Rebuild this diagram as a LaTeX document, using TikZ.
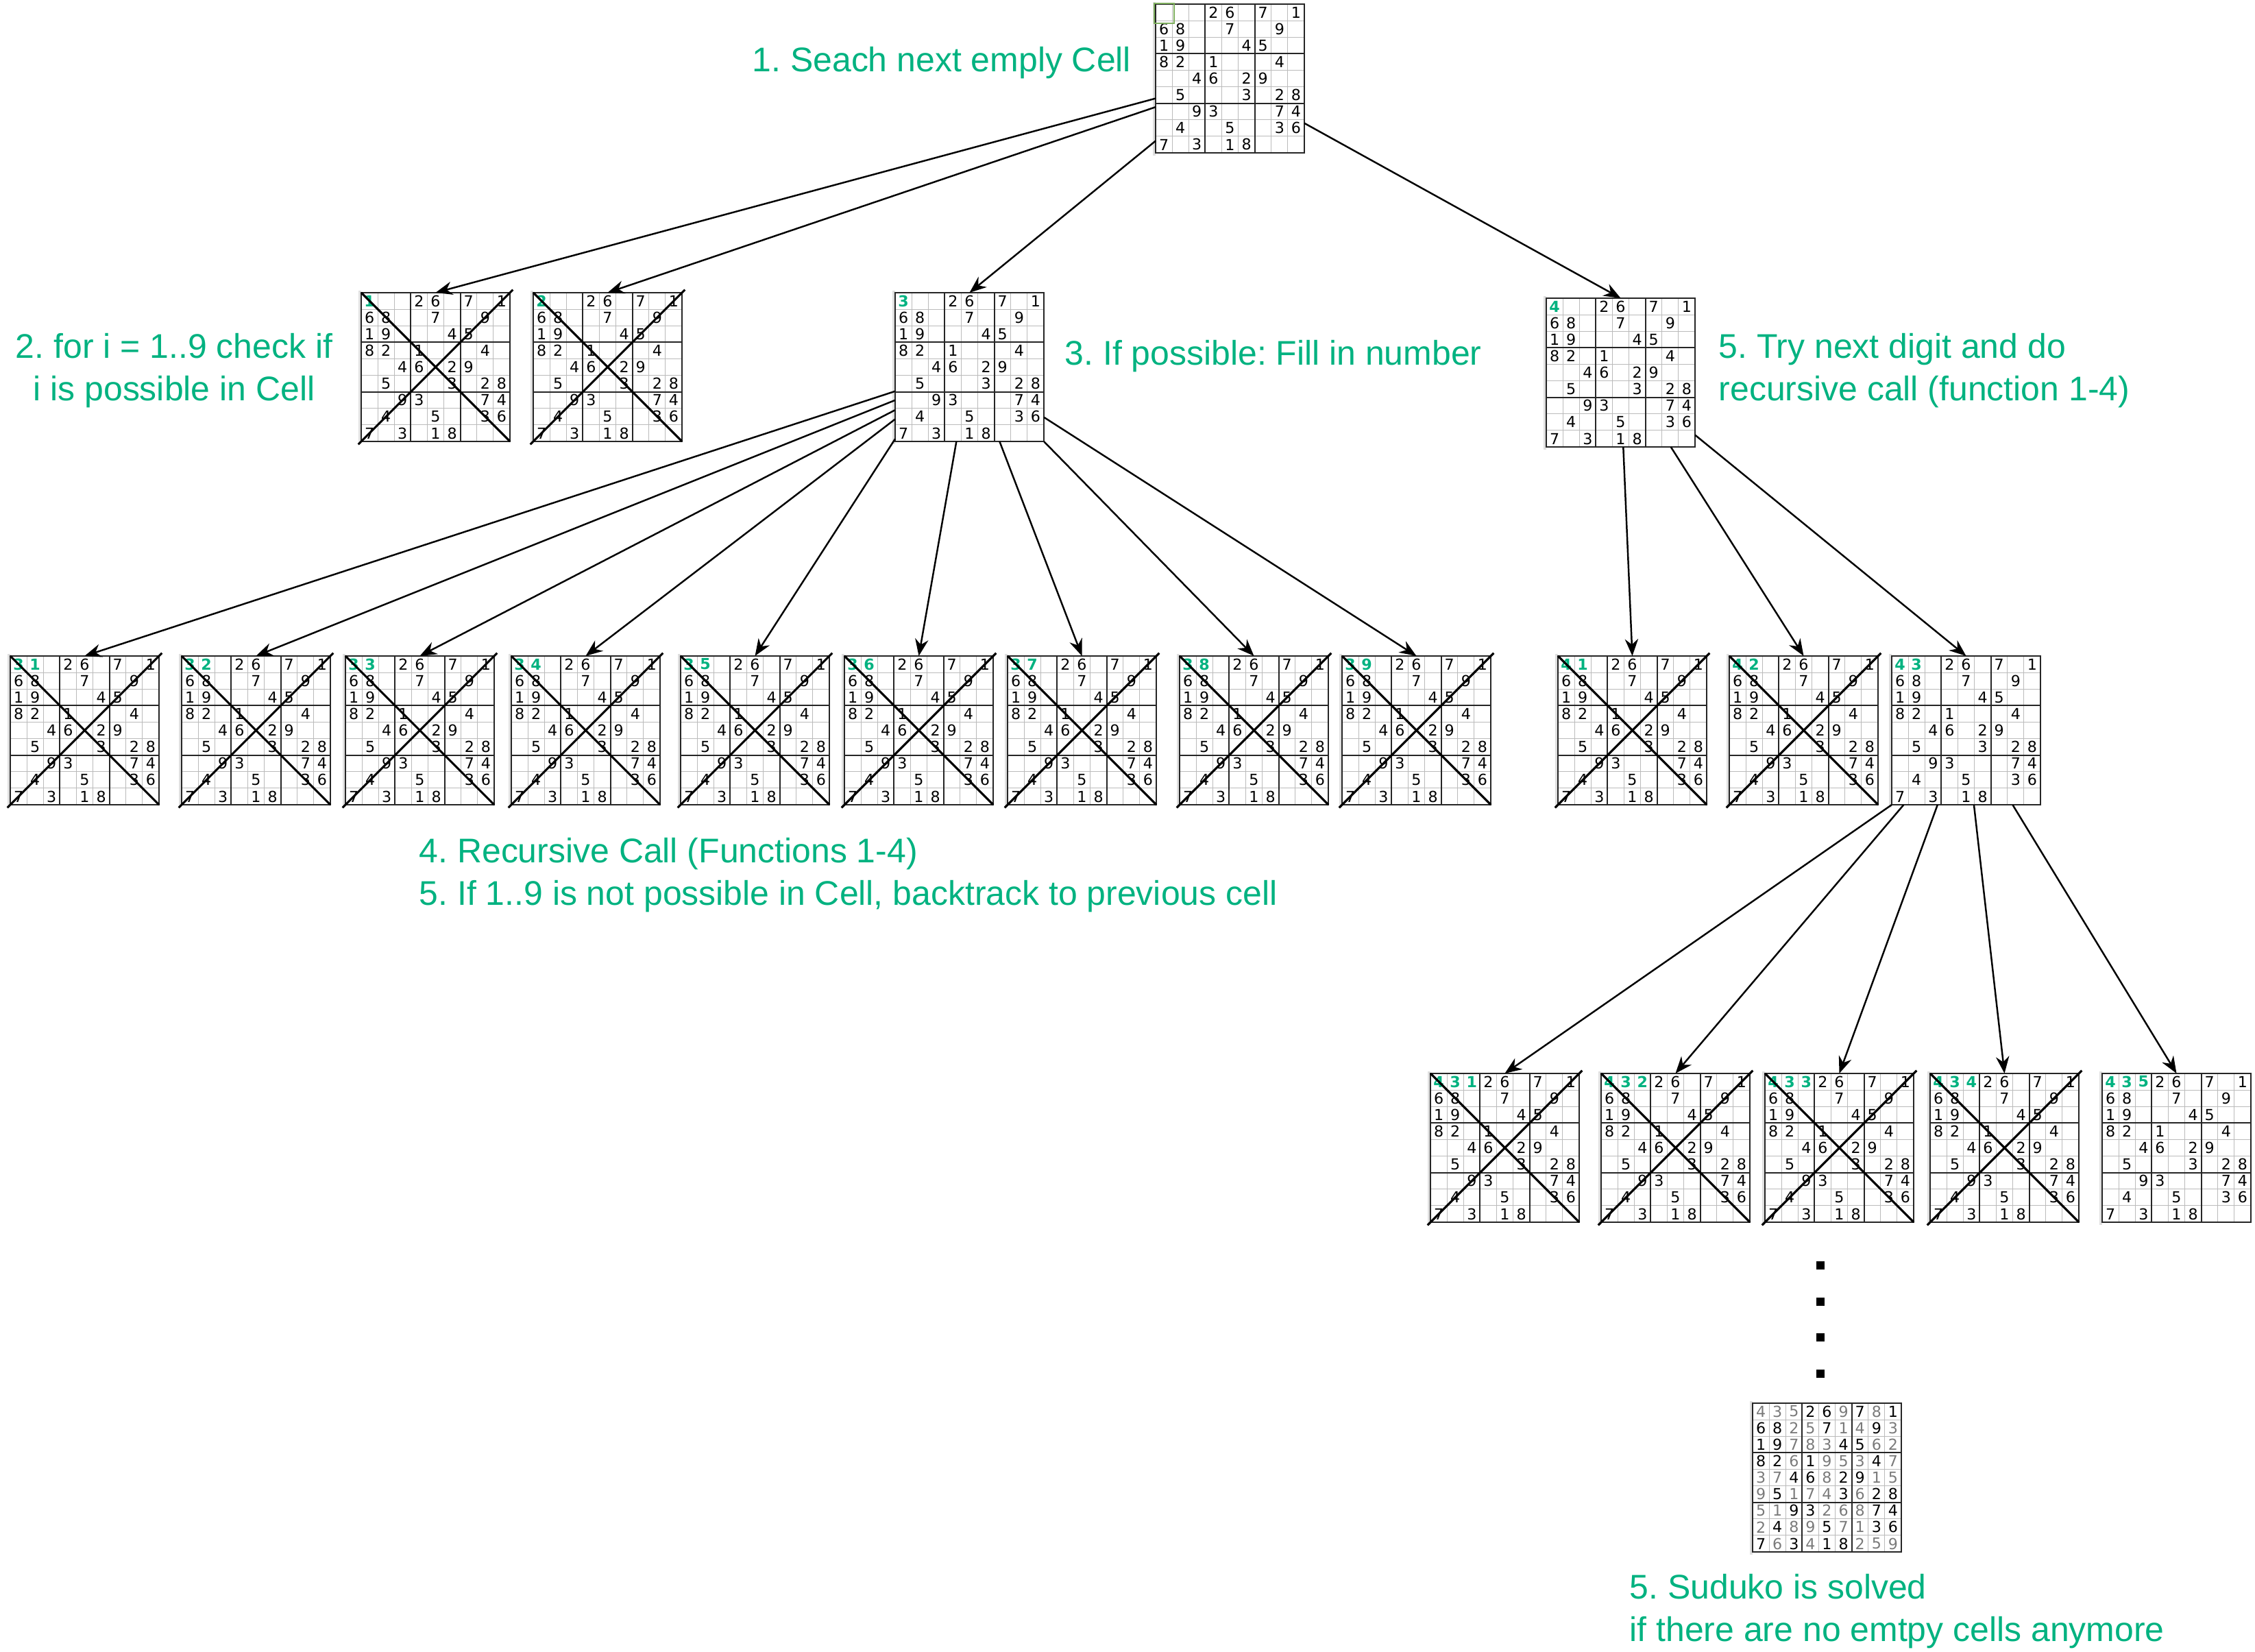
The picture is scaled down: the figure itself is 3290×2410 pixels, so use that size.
\documentclass[tikz,border=0pt]{standalone}
\usepackage{fontspec}
\setmainfont{Liberation Sans}
\newfontfamily\digitfont{DejaVu Sans}
\usetikzlibrary{arrows.meta,calc}
\definecolor{stepColor}{HTML}{00B280}
\definecolor{markColor}{HTML}{7FAF5F}
\definecolor{gridColor}{HTML}{BBBBBB}
\definecolor{fillColor}{HTML}{7A7A7A}
\tikzset{
	board/.style={draw=black!85, line width=0.5pt, minimum size=2.17cm, inner sep=0, outer sep=0},
	digit/.style={font=\digitfont\fontsize{6.3}{7}\selectfont, inner sep=0},
	tried/.style={digit, text=stepColor, font=\digitfont\fontsize{6.3}{7}\selectfont\bfseries},
	crossline/.style={line width=0.9pt, shorten <=-0.06cm, shorten >=-0.06cm},
	note/.style={text=stepColor, font=\fontsize{14.2}{17.6}\selectfont, inner sep=0},
	call/.style={-{Stealth[length=7pt,width=5.5pt]}, line width=0.7pt}
}
\newcommand{\cellsz}{24.111}
\newcommand{\givens}{4/1/2,5/1/6,7/1/7,9/1/1,1/2/6,2/2/8,5/2/7,8/2/9,1/3/1,2/3/9,6/3/4,7/3/5,
	1/4/8,2/4/2,4/4/1,8/4/4,3/5/4,4/5/6,6/5/2,7/5/9,2/6/5,6/6/3,8/6/2,9/6/8,
	3/7/9,4/7/3,8/7/7,9/7/4,2/8/4,5/8/5,8/8/3,9/8/6,1/9/7,3/9/3,5/9/1,6/9/8}
\newcommand{\filled}{1/1/4,2/1/3,3/1/5,6/1/9,8/1/8,3/2/2,4/2/5,6/2/1,7/2/4,9/2/3,
	3/3/7,4/3/8,5/3/3,8/3/6,9/3/2,3/4/6,5/4/9,6/4/5,7/4/3,9/4/7,
	1/5/3,2/5/7,5/5/8,8/5/1,9/5/5,1/6/9,3/6/1,4/6/7,5/6/4,7/6/6,
	1/7/5,2/7/1,5/7/2,6/7/6,7/7/8,1/8/2,3/8/8,4/8/9,6/8/7,7/8/1,
	2/9/6,4/9/4,7/9/2,8/9/5,9/9/9}
% #1 name, #2/#3 top left corner, #4 tried digits in the first row
\newcommand{\board}[4]{%
	\begin{scope}[shift={(#2,#3)}]
		\fill[gray!25] (-4,-3) rectangle (0,221);
		\foreach \i in {1,2,4,5,7,8}
		\draw[gridColor, line width=0.3pt] (\i*\cellsz,0) -- (\i*\cellsz,217) (0,\i*\cellsz) -- (217,\i*\cellsz);
		\foreach \i in {3,6}
		\draw[black!85, line width=0.5pt] (\i*\cellsz,0) -- (\i*\cellsz,217) (0,\i*\cellsz) -- (217,\i*\cellsz);
		\node[board] (#1) at (108.5,108.5) {};
		\foreach \c/\r/\d in \givens
		\node[digit] at ({(\c-0.5)*\cellsz},{(\r-0.5)*\cellsz}) {\d};
		\def\tmp{#4}\ifx\tmp\empty\else
		\foreach \c/\d in {#4}
		\node[tried] at ({(\c-0.5)*\cellsz},{0.5*\cellsz}) {\d};
		\fi
	\end{scope}}
\newcommand{\cross}[1]{\draw[crossline] (#1.north west) -- (#1.south east) (#1.south west) -- (#1.north east);}
\frenchspacing

\begin{document}
\begin{tikzpicture}[x=0.01cm, y=-0.01cm]
	\useasboundingbox (0,0) rectangle (3290,2410);
	
	\board{s0}{1686}{6}{}
	\draw[markColor, line width=0.75pt] ($(s0.north west)+(-2,-1)$) rectangle +(29,29);
	\board{s1}{527}{427}{1/1} \cross{s1}
	\board{s2}{778}{427}{1/2} \cross{s2}
	\board{s3}{1306}{427}{1/3}
	\board{s4}{2256}{435}{1/4}
	
	\foreach \x [count=\k] in {15,265,504,746,993,1232,1470,1721,1958}{
		\board{r\k}{\x}{957}{1/3,2/\k} \cross{r\k}
	}
	\board{q1}{2273}{957}{1/4,2/1} \cross{q1}
	\board{q2}{2523}{957}{1/4,2/2} \cross{q2}
	\board{q3}{2760}{957}{1/4,2/3}
	
	\foreach \x [count=\k] in {2087,2336,2575,2816}{
		\board{p\k}{\x}{1566}{1/4,2/3,3/\k} \cross{p\k}
	}
	\board{p5}{3067}{1566}{1/4,2/3,3/5}
	
	\board{sf}{2557}{2047}{}
	\begin{scope}[shift={(2557,2047)}]
		\foreach \c/\r/\d in \filled
		\node[digit, text=fillColor] at ({(\c-0.5)*\cellsz},{(\r-0.5)*\cellsz}) {\d};
	\end{scope}
	\foreach \y in {1846,1899,1951,2004}
	\fill (2650,\y-6) rectangle +(12,12);
	
	\draw[call] (s0.195) -- (s1.north);
	\draw[call] (s0.201) -- (s2.north);
	\draw[call] (s0.220) -- (s3.north);
	\draw[call] (s0.329) -- (s4.north);
	\foreach \a [count=\k] in {198,204,210,215,224,260,292,315,326}
	\draw[call] (s3.\a) -- (r\k.north);
	\draw[call] (s4.272) -- (q1.north);
	\draw[call] (s4.304) -- (q2.north);
	\draw[call] (s4.320) -- (q3.north);
	\foreach \a [count=\k] in {225,230,249,276,302}
	\draw[call] (q3.\a) -- (p\k.north);
	
	\node[note, anchor=base west] (t1) at (1097,105) {1. Seach next emply Cell};
	\node[note, align=center, anchor=north] (t2) at (254,486) {2. for i = 1..9 check if\\ i is possible in Cell};
	\node[note, anchor=base west] (t3) at (1553,533) {3. If possible: Fill in number};
	\node[note, align=left, anchor=north west] (t4) at (2507,486) {5. Try next digit and do\\recursive call (function 1-4)};
	\node[note, align=left, anchor=north west] (t5) at (611,1222) {4. Recursive Call (Functions 1-4)\\5. If 1..9 is not possible in Cell, backtrack to previous cell};
	\node[note, align=left, anchor=north west] (t6) at (2377,2296) {5. Suduko is solved\\if there are no emtpy cells anymore};
\end{tikzpicture}
\end{document}
